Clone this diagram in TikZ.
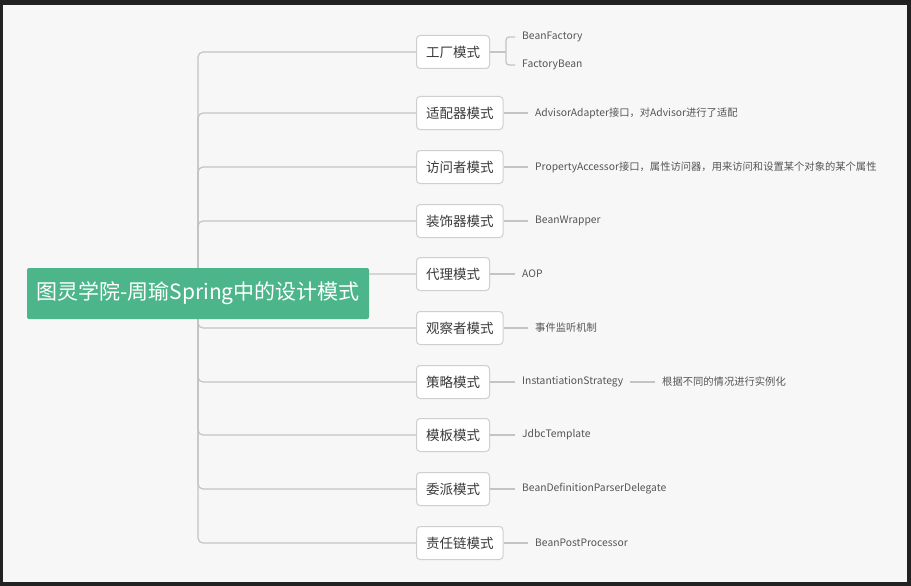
\documentclass[tikz,border=0pt]{standalone}
\usepackage{fontspec}
\setmainfont{Noto Sans CJK SC}
\begin{document}
\begin{tikzpicture}[x=1pt,y=-1pt,
  branch/.style={draw=linegray,line width=1.2pt,rounded corners=5pt},
  catbox/.style={draw=boxgray,line width=1pt,fill=white,rounded corners=3.5pt,
    minimum height=33pt,inner xsep=9.5pt,inner ysep=0pt,anchor=west,
    text=textdark,font=\fontsize{13.5pt}{15pt}\selectfont},
  leaf/.style={anchor=west,inner xsep=7pt,inner ysep=2pt,text=textgray,
    font=\fontsize{10.3pt}{12pt}\selectfont}]
\definecolor{linegray}{HTML}{C4C4C4}
\definecolor{boxgray}{HTML}{CFCFCF}
\definecolor{textdark}{HTML}{3A3A3A}
\definecolor{textgray}{HTML}{555555}
\definecolor{rootgreen}{HTML}{4CB68A}
\definecolor{framedark}{HTML}{222222}
\definecolor{bglight}{HTML}{F7F7F7}
\fill[framedark] (0,0) rectangle (911,586);
\fill[bglight] (3,5) rectangle (907,582);
\useasboundingbox (0,0) rectangle (911,586);

% category nodes
\node[catbox] (c1) at (416,52) {工厂模式};
\node[catbox] (c2) at (416,113) {适配器模式};
\node[catbox] (c3) at (416,167) {访问者模式};
\node[catbox] (c4) at (416,221) {装饰器模式};
\node[catbox] (c5) at (416,274) {代理模式};
\node[catbox] (c6) at (416,328) {观察者模式};
\node[catbox] (c7) at (416,382) {策略模式};
\node[catbox] (c8) at (416,435) {模板模式};
\node[catbox] (c9) at (416,489) {委派模式};
\node[catbox] (c10) at (416,543) {责任链模式};

% trunk branches
\coordinate (rc) at (198,293.5);
\foreach \i/\y in {1/52,2/113,3/167,4/221,5/274,6/328,7/382,8/435,9/489,10/543}{
  \draw[branch] (rc) -- (198,\y) -- (c\i.west);
}

% root
\node[fill=rootgreen,rounded corners=2pt,minimum width=342pt,minimum height=51pt,
  text=white,font=\fontsize{21pt}{24pt}\selectfont,inner sep=0pt] (root) at (rc) {图灵学院-周瑜Spring中的设计模式};

% leaves
\node[leaf] (l1a) at (515,37) {BeanFactory};
\node[leaf] (l1b) at (515,65) {FactoryBean};
\coordinate (fj) at (506,52);
\draw[branch,rounded corners=3pt] (c1.east) -- (fj);
\draw[branch,rounded corners=3pt] (fj) |- (l1a.west);
\draw[branch,rounded corners=3pt] (fj) |- (l1b.west);

\node[leaf] (l2) at (528,113) {AdvisorAdapter接口，对Advisor进行了适配};
\node[leaf] (l3) at (528,167) {PropertyAccessor接口，属性访问器，用来访问和设置某个对象的某个属性};
\node[leaf] (l4) at (528,221) {BeanWrapper};
\node[leaf] (l5) at (515,274) {AOP};
\node[leaf] (l6) at (528,328) {事件监听机制};
\node[leaf] (l7) at (515,382) {InstantiationStrategy};
\node[leaf] (l7b) at (655,382) {根据不同的情况进行实例化};
\node[leaf] (l8) at (515,435) {JdbcTemplate};
\node[leaf] (l9) at (515,489) {BeanDefinitionParserDelegate};
\node[leaf] (l10) at (528,543) {BeanPostProcessor};
\foreach \i in {2,3,4,5,6,7,8,9,10}{
  \draw[branch] (c\i.east) -- (l\i.west);
}
\draw[branch] (l7.east) -- (l7b.west);
\end{tikzpicture}
\end{document}
